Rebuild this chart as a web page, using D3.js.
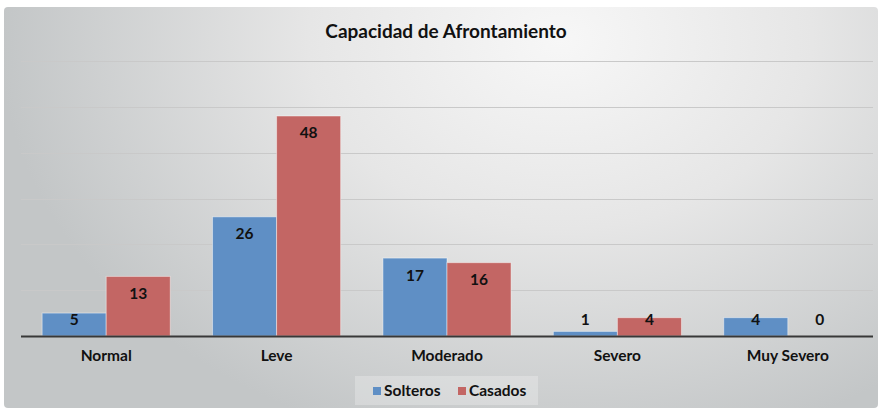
<!DOCTYPE html>
<html>
<head>
<meta charset="utf-8">
<script src="https://cdn.jsdelivr.net/npm/d3@7"></script>
<style>
  body { margin: 0; background: #fff; }
  svg text { font-family: Lato, "Open Sans", sans-serif; font-weight: bold; fill: #111; }
</style>
</head>
<body>
<div id="chart"></div>
<script>
const categories = ["Normal", "Leve", "Moderado", "Severo", "Muy Severo"];
const seriesNames = ["Solteros", "Casados"];
const solteros = [5, 26, 17, 1, 4];
const casados = [13, 48, 16, 4, 0];
const gridTicks = [0, 10, 20, 30, 40, 50, 60];

const colors = { Solteros: "#5f8fc5", Casados: "#c36664" };

const width = 881;
const height = 410;
const margin = { top: 61, right: 8, bottom: 74, left: 21 };

const svg = d3.select("#chart")
  .append("svg")
  .attr("width", width)
  .attr("height", height);

// background panel
const defs = svg.append("defs");
const grad = defs.append("radialGradient")
  .attr("id", "bg")
  .attr("gradientUnits", "userSpaceOnUse")
  .attr("cx", 560).attr("cy", 40).attr("r", 560)
  .attr("gradientTransform", "translate(560,40) scale(1,0.75) translate(-560,-40)");
grad.append("stop").attr("offset", "0%").attr("stop-color", "#f7f7f7");
grad.append("stop").attr("offset", "45%").attr("stop-color", "#e6e6e6");
grad.append("stop").attr("offset", "100%").attr("stop-color", "#c3c6c7");

svg.append("rect")
  .attr("x", 4).attr("y", 7)
  .attr("width", 874).attr("height", 401)
  .attr("rx", 4)
  .attr("fill", "url(#bg)");

const data = categories.map((c, i) => ({ cat: c, Solteros: solteros[i], Casados: casados[i] }));

const x0 = d3.scaleBand()
  .domain(categories)
  .range([margin.left, width - margin.right])
  .padding(0);

const x1 = d3.scaleBand()
  .domain(seriesNames)
  .range([0, x0.bandwidth()])
  .paddingInner(0)
  .paddingOuter(0.33);

const y = d3.scaleLinear()
  .domain([0, 60])
  .range([height - margin.bottom, margin.top]);

// gridlines
svg.append("g")
  .selectAll("line")
  .data(gridTicks.slice(1))
  .enter()
  .append("line")
  .attr("x1", margin.left)
  .attr("x2", width - margin.right)
  .attr("y1", d => Math.round(y(d)) + 0.5)
  .attr("y2", d => Math.round(y(d)) + 0.5)
  .attr("stroke", "#c9c9c9")
  .attr("stroke-width", 1);

// bars
const groups = svg.append("g")
  .selectAll("g")
  .data(data)
  .enter()
  .append("g")
  .attr("transform", d => `translate(${x0(d.cat)},0)`);

groups.selectAll("rect")
  .data(d => seriesNames.map(s => ({ key: s, value: d[s] })))
  .enter()
  .append("rect")
  .attr("x", d => x1(d.key))
  .attr("y", d => y(d.value))
  .attr("width", x1.bandwidth())
  .attr("height", d => y(0) - y(d.value))
  .attr("fill", d => colors[d.key])
  .attr("stroke", "rgba(255,255,255,0.45)")
  .attr("stroke-width", 1);

// data labels
groups.selectAll("text")
  .data(d => seriesNames.map(s => ({ key: s, value: d[s] })))
  .enter()
  .append("text")
  .attr("x", d => x1(d.key) + x1.bandwidth() / 2)
  .attr("y", d => Math.min(y(d.value) + 17, y(0) - 16))
  .attr("dy", "0.35em")
  .attr("text-anchor", "middle")
  .style("font-size", "15.5px")
  .text(d => d.value);

// x axis baseline
svg.append("line")
  .attr("x1", margin.left)
  .attr("x2", width - margin.right)
  .attr("y1", y(0) + 0.5)
  .attr("y2", y(0) + 0.5)
  .attr("stroke", "#383838")
  .attr("stroke-width", 2);

// category labels
const xAxis = svg.append("g")
  .attr("transform", `translate(0,${y(0)})`)
  .call(d3.axisBottom(x0).tickSize(0).tickPadding(14));
xAxis.select(".domain").remove();
xAxis.selectAll("text")
  .style("font-size", "15.5px")
  .style("font-family", "Lato, sans-serif")
  .attr("fill", "#111");

// title
svg.append("text")
  .attr("x", 446)
  .attr("y", 38)
  .attr("text-anchor", "middle")
  .style("font-size", "19px")
  .text("Capacidad de Afrontamiento");

// legend
const legend = svg.append("g");
legend.append("rect")
  .attr("x", 355).attr("y", 376)
  .attr("width", 183).attr("height", 29)
  .attr("fill", "rgba(255,255,255,0.25)");

const legendItems = [{ key: "Solteros", x: 373 }, { key: "Casados", x: 458 }];
legendItems.forEach(item => {
  legend.append("rect")
    .attr("x", item.x).attr("y", 387)
    .attr("width", 8).attr("height", 8)
    .attr("fill", colors[item.key]);
  legend.append("text")
    .attr("x", item.x + 11)
    .attr("y", 391)
    .attr("dy", "0.35em")
    .style("font-size", "15.5px")
    .text(item.key);
});
</script>
</body>
</html>
